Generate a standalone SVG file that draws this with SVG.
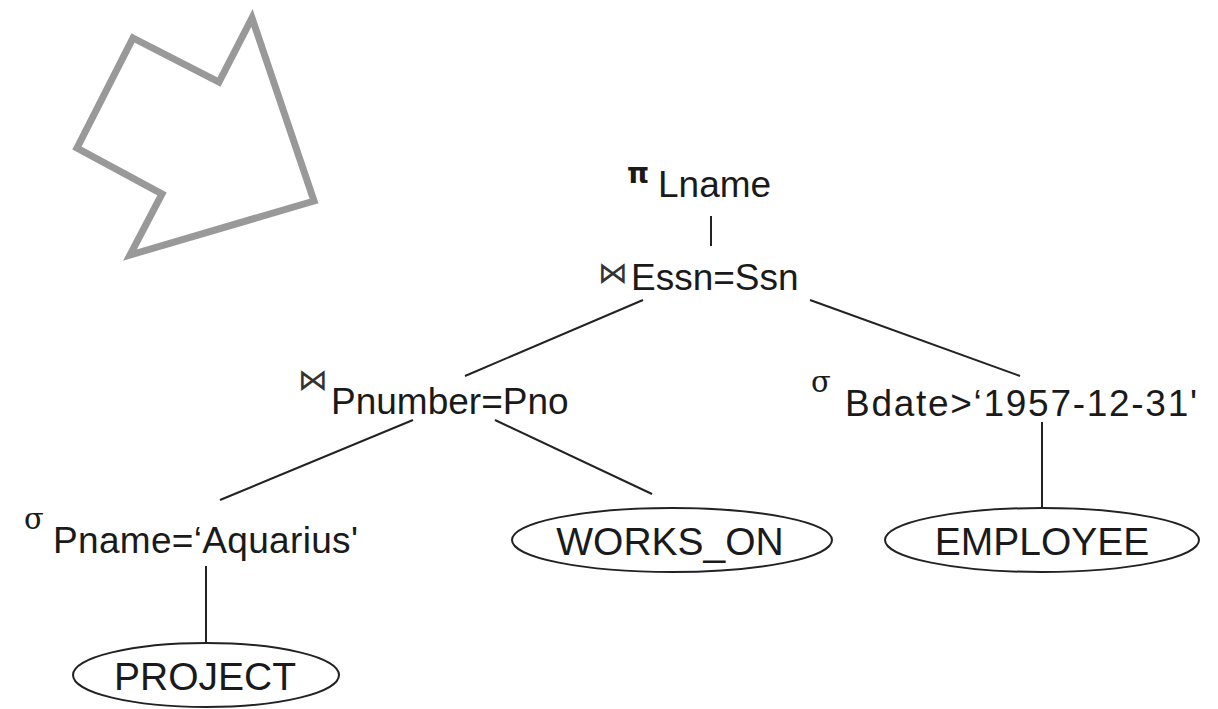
<svg xmlns="http://www.w3.org/2000/svg" width="1218" height="709" viewBox="0 0 1218 709">
<style>
.t{font-family:"Liberation Sans","DejaVu Sans",Arial,sans-serif;font-size:37px;fill:#1a1a1a}
.n{font-size:39px}
.op{font-family:"DejaVu Serif","Liberation Serif",serif;font-size:29px;fill:#1a1a1a}
.pi{font-family:"DejaVu Sans","Liberation Sans",sans-serif;font-size:28px;font-weight:bold;fill:#1a1a1a}
.bt{font-family:"DejaVu Sans","Liberation Sans",sans-serif;font-size:30px;fill:#333}
.e{fill:#fff;stroke:#222;stroke-width:2}
.c line{stroke:#222;stroke-width:2}
</style>
<rect width="1218" height="709" fill="#fff"/>
<polygon points="133,38 219,82 252,18 314,201 130,255 162,194 77,148" fill="none" stroke="#999" stroke-width="7" stroke-linejoin="miter"/>
<g class="c" id="connectors">
<line x1="711" y1="216" x2="711" y2="246"/>
<line x1="643" y1="300" x2="465" y2="376"/>
<line x1="810" y1="300" x2="1020" y2="376"/>
<line x1="413" y1="420" x2="220" y2="500"/>
<line x1="495" y1="420" x2="652" y2="494"/>
<line x1="1042" y1="422" x2="1042" y2="508"/>
<line x1="206" y1="566" x2="206" y2="643"/>
</g>
<g id="pi">
<text class="pi" x="627" y="183">π</text>
<text class="t" x="658" y="197" font-size="34">Lname</text>
</g>
<g id="join1">
<text class="bt" x="598" y="283">⋈</text>
<text class="t" x="631" y="290">Essn=Ssn</text>
</g>
<g id="join2">
<text class="bt" x="298" y="390">⋈</text>
<text class="t" x="331" y="414">Pnumber=Pno</text>
</g>
<g id="sel_bdate">
<text class="op" x="811" y="392">σ</text>
<text class="t" x="845" y="416" textLength="352">Bdate&gt;‘1957-12-31'</text>
</g>
<g id="sel_pname">
<text class="op" x="24" y="529">σ</text>
<text class="t" x="53" y="553" textLength="305">Pname=‘Aquarius'</text>
</g>
<g id="works_on">
<ellipse class="e" cx="672" cy="540" rx="160" ry="32"/>
<text class="t n" x="670" y="555" text-anchor="middle">WORKS_ON</text>
</g>
<g id="employee">
<ellipse class="e" cx="1042" cy="540" rx="157" ry="32"/>
<text class="t n" x="1042" y="555" text-anchor="middle">EMPLOYEE</text>
</g>
<g id="project">
<ellipse class="e" cx="206" cy="675" rx="133" ry="32"/>
<text class="t n" x="205" y="690" text-anchor="middle">PROJECT</text>
</g>
</svg>
